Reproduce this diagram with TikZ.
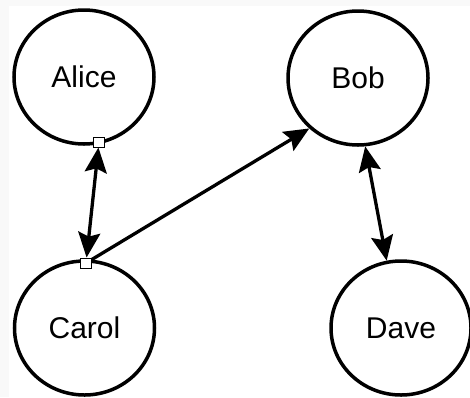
\documentclass[tikz,border=0pt]{standalone}
\usepackage{fontspec}
\setmainfont{Liberation Sans}
\usetikzlibrary{arrows.meta,shapes.geometric}

\begin{document}
\begin{tikzpicture}[
  x=1pt,y=-1pt,
  pnode/.style={draw,ellipse,line width=3.5pt,minimum width=140pt,minimum height=134pt,inner sep=0pt,font=\fontsize{30}{36}\selectfont},
  snode/.style={draw,rectangle,fill=white,line width=1pt,minimum width=11pt,minimum height=10pt,inner sep=0pt},
  link/.style={line width=3.3pt,-{Stealth[length=25pt,width=22pt,inset=4pt]}},
  both/.style={line width=3.3pt,{Stealth[length=25pt,width=22pt,inset=4pt]}-{Stealth[length=25pt,width=22pt,inset=4pt]}}
]
  \useasboundingbox (0,0) rectangle (470,397);
  \fill[gray!5] (0,0) rectangle (470,397);
  \fill[white] (9,6) rectangle (470,397);

  % people
  \node[pnode] (alice) at (84,77) {Alice};
  \node[pnode] (bob) at (358,78) {Bob};
  \node[pnode] (carol) at (84.5,328) {Carol};
  \node[pnode] (dave) at (401,328) {Dave};

  % ports
  \node[snode] (ap) at (99,142) {};
  \node[snode] (cp) at (86,263) {};

  % edges
  \draw[both] (ap) -- (cp);
  \draw[link] (cp) -- (bob.226);
  \draw[both] (bob.276) -- (dave.102);

  \node[snode] at (ap) {};
  \node[snode] at (cp) {};
\end{tikzpicture}
\end{document}
